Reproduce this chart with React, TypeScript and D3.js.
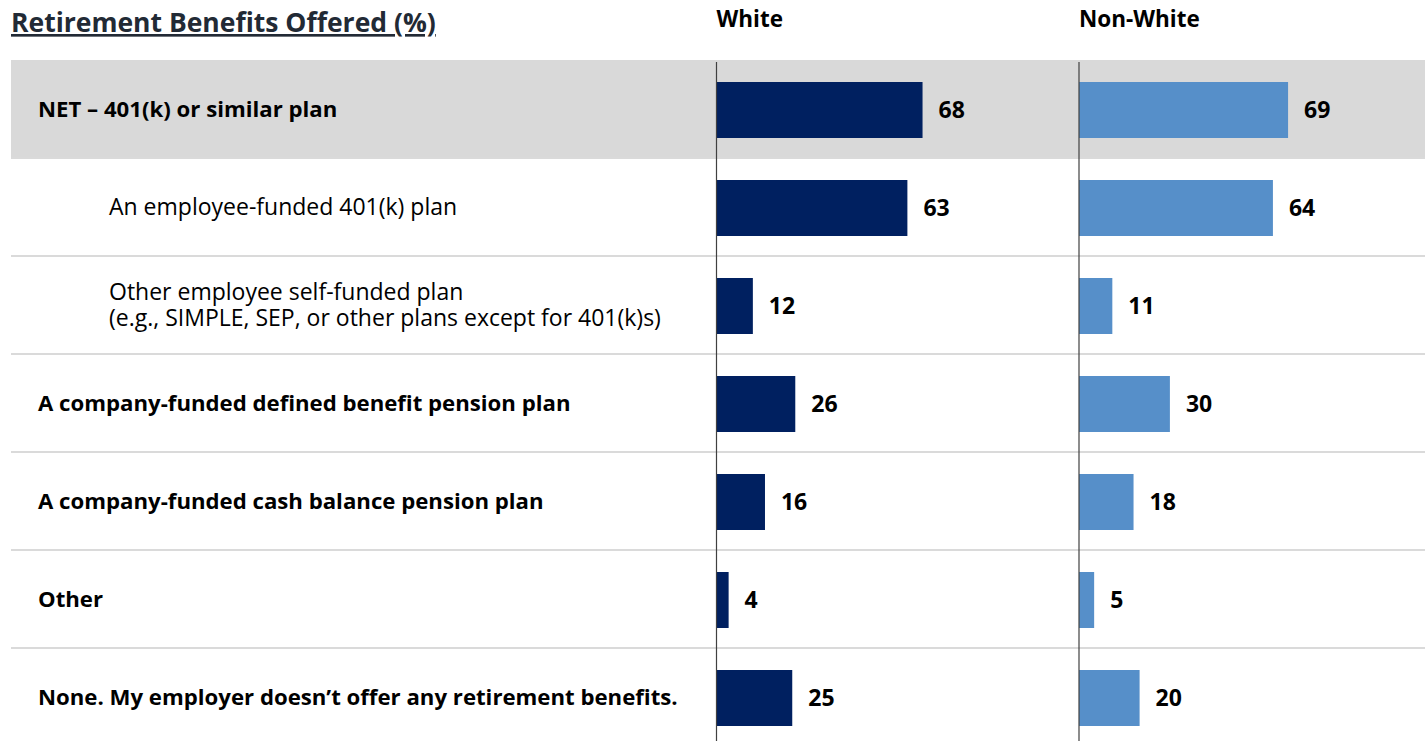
import React from "react";
import * as d3 from "d3";

const title = "Retirement Benefits Offered (%)";
const seriesNames = ["White", "Non-White"];
const categories = [
  "NET – 401(k) or similar plan",
  "An employee-funded 401(k) plan",
  "Other employee self-funded plan\n(e.g., SIMPLE, SEP, or other plans except for 401(k)s)",
  "A company-funded defined benefit pension plan",
  "A company-funded cash balance pension plan",
  "Other",
  "None. My employer doesn’t offer any retirement benefits.",
];
const indented = [false, true, true, false, false, false, false];
const whiteValues = [68, 63, 12, 26, 16, 4, 25];
const nonWhiteValues = [69, 64, 11, 30, 18, 5, 20];

const W = 1425;
const H = 741;
const FONT = "'Open Sans', sans-serif";
const colors = ["#002060", "#568FC9"];

export default function App() {
  const y = d3.scaleBand<number>().domain(d3.range(categories.length)).range([60, 746]);
  const x = d3.scaleLinear().domain([0, 100]).range([0, 303]);
  const panelX = [716.5, 1079];
  const series = [whiteValues, nonWhiteValues];
  const step = y.step();
  const barH = 56;

  return (
    <svg
      width={W}
      height={H}
      style={{ position: "absolute", left: 0, top: 0, background: "#fff" }}
      fontFamily={FONT}
    >
      <rect x={11} y={y(0)} width={W - 11} height={step} fill="#d9d9d9" />
      {d3.range(2, categories.length + 1).map((i) => (
        <line
          key={i}
          x1={11}
          x2={W}
          y1={y(i - 1) as number}
          y2={y(i - 1) as number}
          stroke="#dadada"
          strokeWidth={2}
        />
      ))}
      <text x={11} y={32} fontSize={26.5} fontWeight={700} fill="#222a35" textDecoration="underline">
        {title}
      </text>
      {seriesNames.map((s, j) => (
        <text key={s} x={panelX[j]} y={27} fontSize={22.5} fontWeight={700} fill="#000">
          {s}
        </text>
      ))}
      {categories.map((c, i) => {
        const lines = c.split("\n");
        const cy = (y(i) as number) + step / 2;
        const lh = 26.5;
        const x0 = indented[i] ? 109 : 38;
        return (
          <text
            key={i}
            x={x0}
            fontSize={indented[i] ? 23 : 22.2}
            fontWeight={indented[i] ? 400 : 700}
            fill="#000"
          >
            {lines.map((l, k) => (
              <tspan key={k} x={x0} y={cy + 8 + (k - (lines.length - 1) / 2) * lh}>
                {l}
              </tspan>
            ))}
          </text>
        );
      })}
      {series.map((vals, j) => (
        <g key={j} transform={`translate(${panelX[j]},0)`}>
          {vals.map((v, i) => {
            const cy = (y(i) as number) + step / 2 + 1;
            return (
              <g key={i}>
                <rect x={0} y={cy - barH / 2} width={x(v)} height={barH} fill={colors[j]} />
                <text x={x(v) + 16} y={cy + 8} fontSize={23} fontWeight={700} fill="#000">
                  {v}
                </text>
              </g>
            );
          })}
          <line x1={0} x2={0} y1={62} y2={H} stroke="#404040" strokeWidth={1.2} />
        </g>
      ))}
    </svg>
  );
}
